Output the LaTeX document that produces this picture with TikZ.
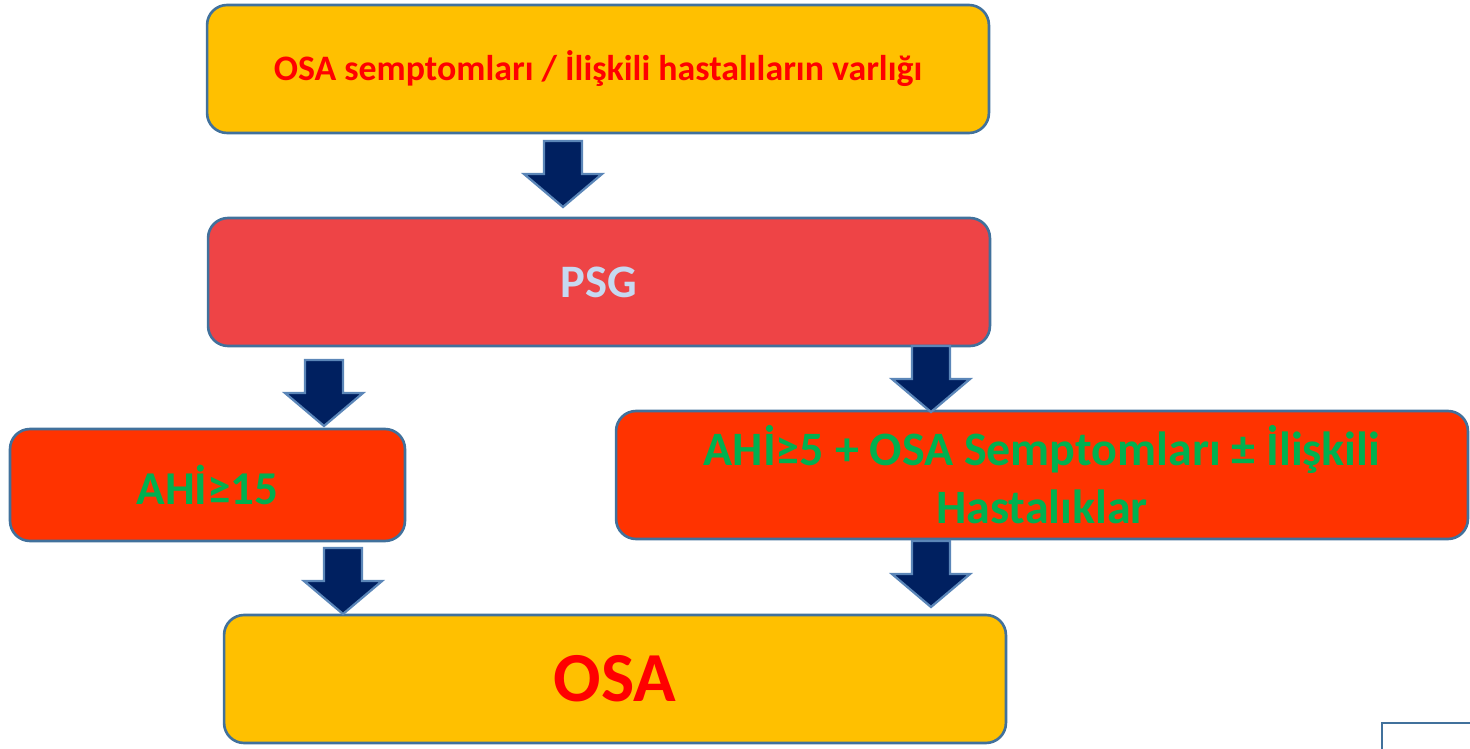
\documentclass[tikz,border=0pt]{standalone}
\usepackage{fontspec}
\setmainfont{Carlito}
\usepackage{tikz}
\usetikzlibrary{positioning}
\definecolor{osayellow}{HTML}{FFC000}
\definecolor{psgred}{HTML}{EE4446}
\definecolor{ahired}{HTML}{FF3300}
\definecolor{ahigreen}{HTML}{00B050}
\definecolor{psgtext}{HTML}{C6D9F1}
\definecolor{boxline}{HTML}{41719C}
\definecolor{arrowblue}{HTML}{002060}
\definecolor{arrowline}{HTML}{5B86B8}
\tikzset{
    stepbox/.style={draw=boxline, line width=1.5pt, rounded corners=0.4cm, align=center, inner sep=2pt},
    blockarrow/.style={fill=arrowblue, draw=arrowline, line width=1.3pt, line join=miter}
}

\begin{document}
\begin{tikzpicture}[x=0.02cm, y=-0.02cm]
    \useasboundingbox (0,0) rectangle (1470,749);

    \node[stepbox, fill=osayellow, text=red, minimum width=15.64cm, minimum height=2.56cm,
          font=\bfseries\fontsize{20.4}{24}\selectfont] (belirti) at (598,69) {OSA semptomları / İlişkili hastalıların varlığı};
    \node[stepbox, fill=psgred, text=psgtext, minimum width=15.64cm, minimum height=2.56cm,
          font=\bfseries\fontsize{26.5}{32}\selectfont] (psg) at (599,282) {PSG};
    \node[stepbox, fill=ahired, text=ahigreen, minimum width=7.9cm, minimum height=2.24cm,
          font=\bfseries\fontsize{26.8}{32}\selectfont] (ahi15) at (207.5,485) {AHİ≥15};
    \node[stepbox, fill=ahired, text=ahigreen, minimum width=17.04cm, minimum height=2.56cm,
          font=\bfseries\fontsize{27.3}{33}\selectfont] (ahi5) at (1042,475) {AHİ≥5 + OSA Semptomları ± İlişkili\\Hastalıklar};
    \node[stepbox, fill=osayellow, text=red, minimum width=15.64cm, minimum height=2.56cm,
          font=\bfseries\fontsize{40}{48}\selectfont] (osa) at (615,679) {OSA};

    % block arrows between the boxes
    \foreach \x/\y in {563/141, 324/360, 931/346, 343/548, 931/541}
        \draw[blockarrow] (\x-19,\y) -- (\x+19,\y) -- (\x+19,\y+33) -- (\x+39,\y+33)
            -- (\x,\y+66) -- (\x-39,\y+33) -- (\x-19,\y+33) -- cycle;

    % cut-off frame in the corner
    \coordinate (kose) at (1382,723);
    \draw[boxline, line width=1.5pt] (1382,760) -- (kose) -- (1480,723);
\end{tikzpicture}
\end{document}
